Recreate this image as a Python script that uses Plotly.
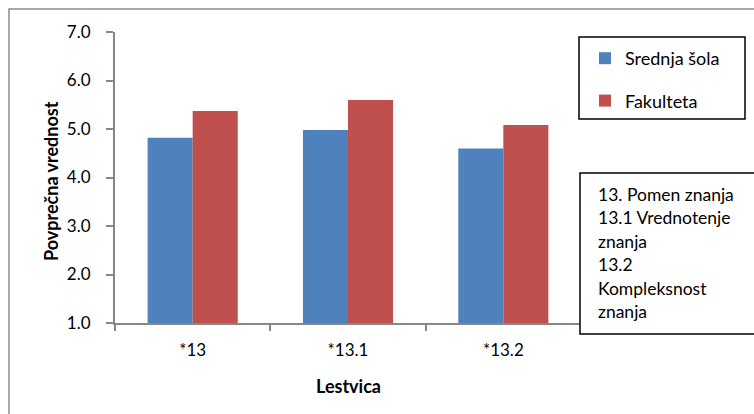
import plotly.graph_objects as go

# Scale averages per school level
categories = ["*13", "*13.1", "*13.2"]
srednja_sola = [4.82, 4.98, 4.60]
fakulteta = [5.37, 5.60, 5.08]
series_names = ["Srednja šola", "Fakulteta"]
y_ticks = [1, 2, 3, 4, 5, 6, 7]
note_lines = ["13. Pomen znanja", "13.1 Vrednotenje", "znanja", "13.2",
              "Kompleksnost", "znanja"]

W, H = 754, 414
L, R, T, B = 115, 173, 32, 91
PW, PH = W - L - R, H - T - B


def px(x):
    return (x - L) / PW


def py(y):
    return (H - B - y) / PH


FONT = "Lato"
AXIS_GREY = "#878787"

fig = go.Figure()
fig.add_trace(go.Bar(x=categories, y=srednja_sola, name=series_names[0],
                     marker=dict(color="#4F81BD", line=dict(width=0)),
                     legendgroup="a"))
fig.add_trace(go.Bar(x=categories, y=fakulteta, name=series_names[1],
                     marker=dict(color="#C0504D", line=dict(width=0)),
                     legendgroup="b"))

shapes = [
    # outer chart frame
    dict(type="rect", xref="paper", yref="paper",
         x0=px(9), x1=px(800), y0=py(460), y1=py(9),
         line=dict(color="#8c8c8c", width=1.5), layer="below"),
    # legend frame
    dict(type="rect", xref="paper", yref="paper",
         x0=px(579), x1=px(745), y0=py(119), y1=py(37),
         line=dict(color="black", width=1.5)),
    # note box frame
    dict(type="rect", xref="paper", yref="paper",
         x0=px(580), x1=px(800), y0=py(334), y1=py(173),
         fillcolor="white", line=dict(color="black", width=1.5)),
]

annotations = [
    dict(text="<b>Povprečna vrednost</b>", xref="paper", yref="paper",
         x=px(51), y=py(181), xanchor="center", yanchor="middle",
         textangle=-90, showarrow=False,
         font=dict(family=FONT, size=18, color="black")),
    dict(text="<b>Lestvica</b>", xref="paper", yref="paper",
         x=0.5, y=py(386), xanchor="center", yanchor="middle",
         showarrow=False,
         font=dict(family=FONT, size=18, color="black")),
]
line_y = [194, 217.5, 241, 264.5, 288, 311.5]
for txt, yy in zip(note_lines, line_y):
    annotations.append(dict(text=txt, xref="paper", yref="paper",
                            x=px(596), y=py(yy), xanchor="left",
                            yanchor="middle", showarrow=False,
                            font=dict(family=FONT, size=17.5, color="black")))

fig.update_layout(
    width=W, height=H,
    margin=dict(l=L, r=R, t=T, b=B),
    paper_bgcolor="white", plot_bgcolor="white",
    barmode="group", bargap=0.42, bargroupgap=0,
    font=dict(family=FONT, size=17, color="black"),
    showlegend=True,
    legend=dict(x=px(585), y=py(40), xanchor="left", yanchor="top",
                traceorder="grouped", tracegroupgap=16,
                font=dict(family=FONT, size=18, color="black"),
                bgcolor="rgba(0,0,0,0)", borderwidth=0),
    shapes=shapes, annotations=annotations,
)
fig.update_yaxes(range=[1, 7], tickvals=y_ticks, tickformat=".1f",
                 showline=True, linecolor=AXIS_GREY, linewidth=2,
                 ticks="outside", ticklen=7, tickcolor=AXIS_GREY, tickwidth=2,
                 showgrid=False, zeroline=False, ticklabelstandoff=12,
                 tickfont=dict(family=FONT, size=17, color="black"))
fig.update_xaxes(showline=True, linecolor=AXIS_GREY, linewidth=2,
                 ticks="outside", ticklen=6, tickcolor=AXIS_GREY, tickwidth=2,
                 tickson="boundaries", showgrid=False, ticklabelstandoff=11,
                 tickfont=dict(family=FONT, size=17, color="black"))

fig.write_html("out.html")
